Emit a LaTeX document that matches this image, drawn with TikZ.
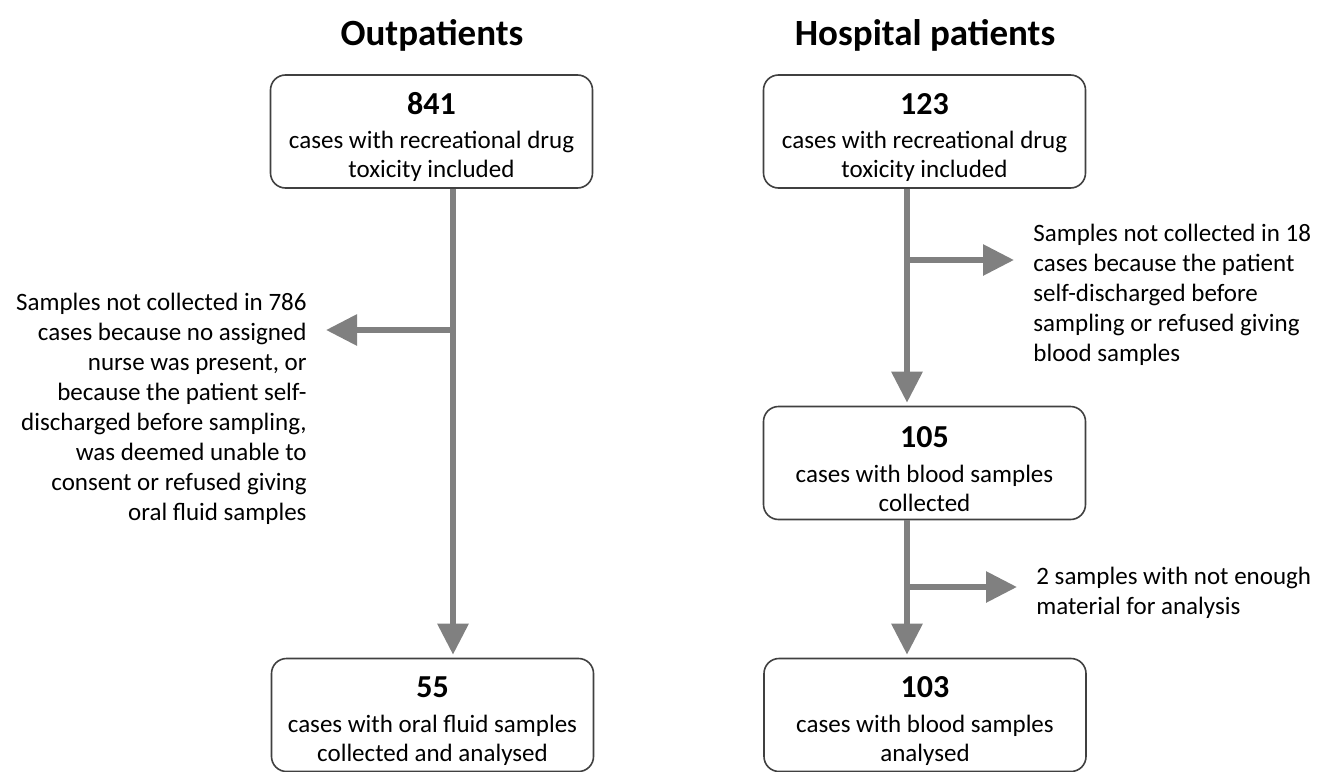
\documentclass[tikz,border=0pt]{standalone}
\usepackage{fontspec}
\setmainfont{Carlito}
\usetikzlibrary{arrows.meta, positioning, calc}
\definecolor{flowgray}{RGB}{128,128,128}
\definecolor{boxgray}{RGB}{64,64,64}

\newcommand{\numfont}{\fontsize{16}{19}\selectfont\bfseries\rule{0pt}{16.5pt}}

\begin{document}
\begin{tikzpicture}[x=0.5pt, y=-0.5pt,
    flow/.style={-{Triangle[length=15.5pt, width=15pt]}, line width=3pt, draw=flowgray,
        shorten >=1.5pt},
    countbox/.style={rectangle, rounded corners=7.5pt, draw=boxgray, fill=white,
        line width=0.8pt, minimum width=161pt, minimum height=56.5pt, inner sep=0pt,
        align=center, font=\fontsize{12.5}{14.3}\selectfont},
    notetext/.style={font=\fontsize{12.5}{15}\selectfont, inner ysep=0pt, inner xsep=8pt},
    grouptitle/.style={font=\fontsize{18.5}{22}\selectfont\bfseries}
]

\useasboundingbox (0,0) rectangle (1317,771);

% === Titles ===
\node[grouptitle] (outtitle) at (432,35) {Outpatients};
\node[grouptitle] (hosptitle) at (925,35) {Hospital patients};

% === Outpatients (left) ===
\node[countbox] (out841) at (431.5,131.5)
    {{\numfont 841}\\[3pt]cases with recreational drug\\toxicity included};
\node[countbox] (out55) at (432.5,715)
    {{\numfont 55}\\[3pt]cases with oral fluid samples\\collected and analysed};
\node[notetext, align=right, anchor=east] (outnote) at (323,409)
    {Samples not collected in 786\\cases because no assigned\\nurse was present, or\\because the patient self-\\discharged before sampling,\\was deemed unable to\\consent or refused giving\\oral fluid samples};

% trunk sits right of the box centre
\coordinate (outtrunk) at ([xshift=10.75pt]out841.south);
\coordinate (outsplit) at (outtrunk |- 0,330);
\draw[flow] (outtrunk) -- (outtrunk |- out55.north);
\draw[flow] (outsplit) -- (outsplit -| outnote.east);

% === Hospital patients (right) ===
\node[countbox] (hosp123) at (924.5,131.5)
    {{\numfont 123}\\[3pt]cases with recreational drug\\toxicity included};
\node[countbox] (hosp105) at (924.5,463)
    {{\numfont 105}\\[3pt]cases with blood samples\\collected};
\node[countbox] (hosp103) at (925,715)
    {{\numfont 103}\\[3pt]cases with blood samples\\analysed};
\node[notetext, align=left, anchor=west] (hospnote1) at (1017,294.5)
    {Samples not collected in 18\\cases because the patient\\self-discharged before\\sampling or refused giving\\blood samples};
\node[notetext, align=left, anchor=west] (hospnote2) at (1020,593)
    {2 samples with not enough\\material for analysis};

% trunks sit left of the box centre
\coordinate (hosptrunk1) at ([xshift=-8.75pt]hosp123.south);
\coordinate (hosptrunk2) at ([xshift=-8.75pt]hosp105.south);
\coordinate (hospsplit1) at (hosptrunk1 |- 0,260);
\coordinate (hospsplit2) at (hosptrunk2 |- 0,587);
\draw[flow] (hosptrunk1) -- (hosptrunk1 |- hosp105.north);
\draw[flow] (hosptrunk2) -- (hosptrunk2 |- hosp103.north);
\draw[flow] (hospsplit1) -- (hospsplit1 -| hospnote1.west);
\draw[flow] (hospsplit2) -- (hospsplit2 -| hospnote2.west);

\end{tikzpicture}
\end{document}
